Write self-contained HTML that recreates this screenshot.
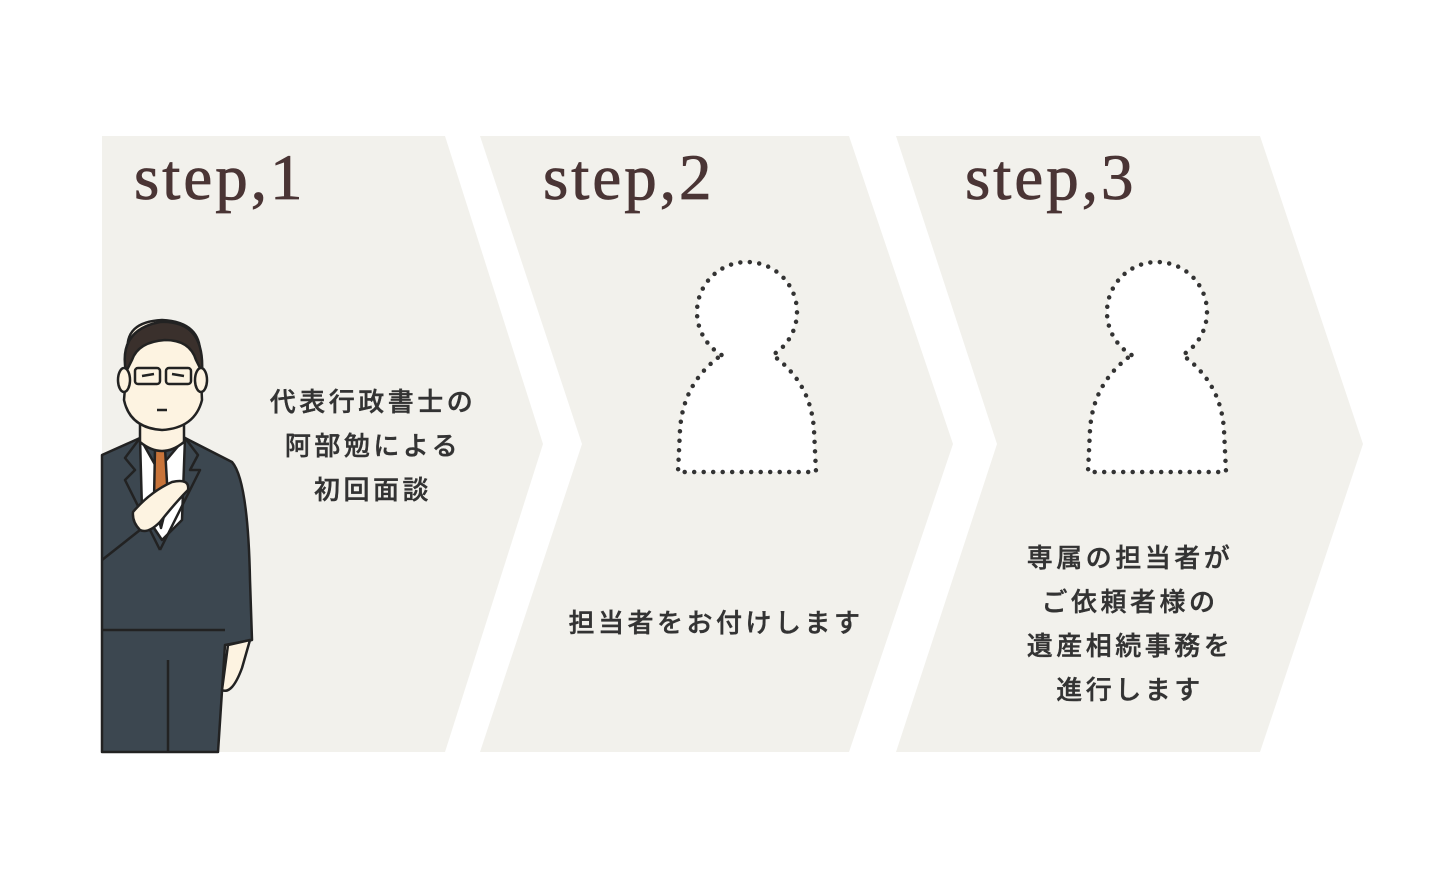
<!DOCTYPE html>
<html><head><meta charset="utf-8"><style>
html,body{margin:0;padding:0;background:#fff;}
body{width:1431px;height:891px;position:relative;overflow:hidden;}
.st{position:absolute;font-family:"Liberation Serif",serif;font-size:65px;letter-spacing:3px;color:#4a3535;line-height:1;-webkit-text-stroke:0.8px #4a3535;}
.jp{position:absolute;font-family:"Liberation Sans","Noto Sans CJK JP",sans-serif;font-size:26px;letter-spacing:3.5px;color:#333;line-height:44px;text-align:center;font-weight:500;-webkit-text-stroke:0.4px #333;}
</style></head><body>
<svg width="1431" height="891" style="position:absolute;left:0;top:0">
<g fill="#f2f1ec">
<polygon points="102,136 445,136 543,444 445,752 102,752"/>
<polygon points="480,136 849,136 953,444 849,752 480,752 582,444"/>
<polygon points="896,136 1260,136 1363,444 1260,752 896,752 997,444"/>
</g>
<g id="sil" fill="#fff" stroke="#333" stroke-width="4.5" stroke-linecap="round" stroke-dasharray="0 9.5">
<path d="M721.5,355 A50,50 0 1 1 772.5,355 C800,375 812,400 814,430 L816,472 L678,472 L680,430 C682,400 694,375 721.5,355 Z"/>
</g>
<use href="#sil" transform="translate(410,0)"/>
<g stroke="#222" stroke-width="2.5" stroke-linejoin="round">
<path d="M102,455 L140,438 L185,438 L232,462 Q248,480 250,580 L252,640 L225,645 L218,752 L102,752 Z" fill="#3c4750"/>
<path d="M140,438 L158,470 L185,438 L182,520 L162,540 L142,510 Z" fill="#fff"/>
<path d="M155,448 L165,448 L168,500 L161,528 L154,500 Z" fill="#c8743a"/>
<path d="M140,438 L125,458 L135,470 L125,480 L160,550 M185,438 L198,455 L190,470 L200,470 L160,550" fill="none"/>
<path d="M168,752 L168,660 M102,630 L225,630 M102,560 L140,530" fill="none"/>
<path d="M140,420 L140,442 Q162,460 184,442 L184,420 Z" fill="#fdf3e1"/>
<path d="M128,352 Q124,322 162,320 Q202,322 200,356 L202,400 Q195,428 162,430 Q130,428 124,400 Z" fill="#fdf3e1"/>
<path d="M126,372 Q118,330 160,322 Q205,320 202,372 L196,360 Q190,340 165,340 Q138,342 132,360 Z" fill="#3a302c"/>
<ellipse cx="124" cy="380" rx="6" ry="12" fill="#fdf3e1"/>
<ellipse cx="201" cy="380" rx="6" ry="12" fill="#fdf3e1"/>
<rect x="135" y="368" width="25" height="16" rx="3" fill="none"/>
<rect x="166" y="368" width="25" height="16" rx="3" fill="none"/>
<path d="M142,376 L154,374 M172,374 L184,376 M157,410 L167,410" fill="none"/>
<path d="M133,512 Q150,492 172,482 Q190,478 188,490 Q176,502 160,522 Q148,534 140,530 Q132,522 133,512 Z" fill="#fdf3e1"/>
<path d="M228,645 L222,690 Q232,695 242,668 L250,640 Z" fill="#fdf3e1"/>
</g>
</svg>
<div class="st" style="left:134px;top:146px">step,1</div>
<div class="st" style="left:543px;top:146px">step,2</div>
<div class="st" style="left:965px;top:146px">step,3</div>
<div class="jp" style="left:223px;top:380px;width:300px">代表行政書士の<br>阿部勉による<br>初回面談</div>
<div class="jp" style="left:516px;top:601px;width:400px">担当者をお付けします</div>
<div class="jp" style="left:980px;top:536px;width:300px">専属の担当者が<br>ご依頼者様の<br>遺産相続事務を<br>進行します</div>
</body></html>
